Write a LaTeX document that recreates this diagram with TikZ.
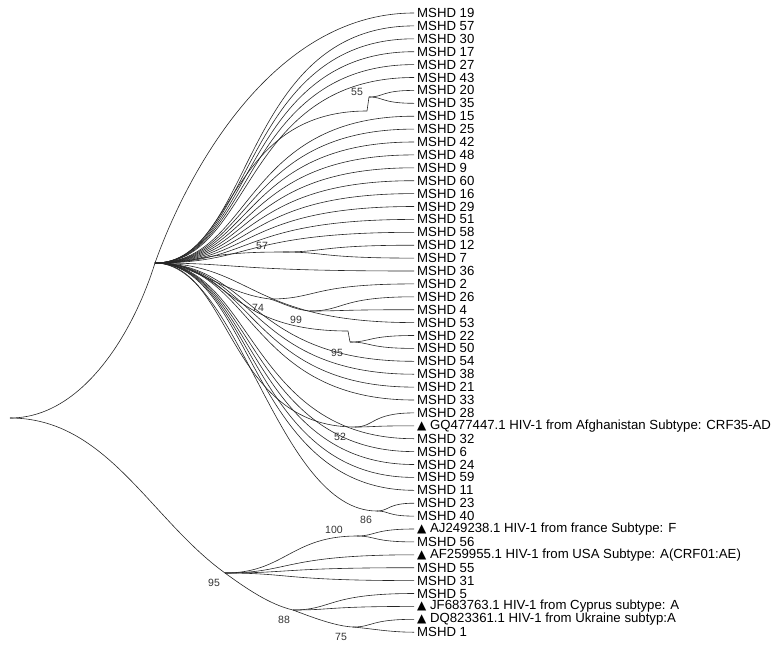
\documentclass[tikz,border=0pt]{standalone}
\usepackage{fontspec}
\setmainfont{Liberation Sans}
\newfontfamily\symfont{DejaVu Sans}
\usetikzlibrary{calc}
\tikzset{
  branch/.style={line width=0.6pt, draw=black!85},
  leaf/.style={anchor=west, inner xsep=3pt, inner ysep=0pt, font=\fontsize{13.2}{14}\selectfont},
  boot/.style={font=\fontsize{10.5}{12}\selectfont, inner sep=0pt, text=black!80},
}
\newcommand\tri{{\symfont\fontsize{12}{12}\selectfont ▲}}
\newcommand\tbranch[6]{\draw[branch] let \p1=(#1), \p2=(#2) in (\p1) .. controls ({\x1+#3*(\x2-\x1)},{\y1+#4*(\y2-\y1)}) and ({\x1+#5*(\x2-\x1)},{\y1+#6*(\y2-\y1)}) .. (\p2);}
\newcommand\fan[2]{\tbranch{#1}{#2}{0.33}{0}{0.28}{1}}
\newcommand\upfan[2]{\tbranch{#1}{#2}{0.38}{0}{0.33}{1}}
\newcommand\lofan[2]{\tbranch{#1}{#2}{0.38}{0}{0.36}{1}}
\begin{document}
\begin{tikzpicture}[x=1pt,y=-1pt]
\useasboundingbox (0,0) rectangle (783,651);
% leaves
\node[leaf] (m19) at (414,13.0) {MSHD 19};
\node[leaf] (m57) at (414,25.9) {MSHD 57};
\node[leaf] (m30) at (414,38.8) {MSHD 30};
\node[leaf] (m17) at (414,51.7) {MSHD 17};
\node[leaf] (m27) at (414,64.6) {MSHD 27};
\node[leaf] (m43) at (414,77.5) {MSHD 43};
\node[leaf] (m20) at (414,90.4) {MSHD 20};
\node[leaf] (m35) at (414,103.3) {MSHD 35};
\node[leaf] (m15) at (414,116.2) {MSHD 15};
\node[leaf] (m25) at (414,129.1) {MSHD 25};
\node[leaf] (m42) at (414,142.0) {MSHD 42};
\node[leaf] (m48) at (414,154.9) {MSHD 48};
\node[leaf] (m9) at (414,167.8) {MSHD 9};
\node[leaf] (m60) at (414,180.7) {MSHD 60};
\node[leaf] (m16) at (414,193.6) {MSHD 16};
\node[leaf] (m29) at (414,206.5) {MSHD 29};
\node[leaf] (m51) at (414,219.4) {MSHD 51};
\node[leaf] (m58) at (414,232.3) {MSHD 58};
\node[leaf] (m12) at (414,245.2) {MSHD 12};
\node[leaf] (m7) at (414,258.1) {MSHD 7};
\node[leaf] (m36) at (414,271.0) {MSHD 36};
\node[leaf] (m2) at (414,283.9) {MSHD 2};
\node[leaf] (m26) at (414,296.8) {MSHD 26};
\node[leaf] (m4) at (414,309.7) {MSHD 4};
\node[leaf] (m53) at (414,322.6) {MSHD 53};
\node[leaf] (m22) at (414,335.5) {MSHD 22};
\node[leaf] (m50) at (414,348.4) {MSHD 50};
\node[leaf] (m54) at (414,361.3) {MSHD 54};
\node[leaf] (m38) at (414,374.2) {MSHD 38};
\node[leaf] (m21) at (414,387.1) {MSHD 21};
\node[leaf] (m33) at (414,400.0) {MSHD 33};
\node[leaf] (m28) at (414,412.9) {MSHD 28};
\node[leaf] (gq) at (414,425.8) {\tri\ GQ477447.1 HIV-1 from Afghanistan Subtype: CRF35-AD};
\node[leaf] (m32) at (414,438.7) {MSHD 32};
\node[leaf] (m6) at (414,451.6) {MSHD 6};
\node[leaf] (m24) at (414,464.5) {MSHD 24};
\node[leaf] (m59) at (414,477.4) {MSHD 59};
\node[leaf] (m11) at (414,490.3) {MSHD 11};
\node[leaf] (m23) at (414,503.2) {MSHD 23};
\node[leaf] (m40) at (414,516.1) {MSHD 40};
\node[leaf] (aj) at (414,529.0) {\tri\ AJ249238.1 HIV-1 from france Subtype: F};
\node[leaf] (m56) at (414,541.9) {MSHD 56};
\node[leaf] (af) at (414,554.8) {\tri\ AF259955.1 HIV-1 from USA Subtype: A(CRF01:AE)};
\node[leaf] (m55) at (414,567.7) {MSHD 55};
\node[leaf] (m31) at (414,580.6) {MSHD 31};
\node[leaf] (m5) at (414,593.5) {MSHD 5};
\node[leaf] (jf) at (414,606.4) {\tri\ JF683763.1 HIV-1 from Cyprus subtype: A};
\node[leaf] (dq) at (414,619.3) {\tri\ DQ823361.1 HIV-1 from Ukraine subtyp:A};
\node[leaf] (m1) at (414,632.2) {MSHD 1};
% internal nodes
\coordinate (R) at (10,418);
\coordinate (A) at (155,263);
\coordinate (N55) at (369,97);
\coordinate (N55in) at (367,111);
\coordinate (N57) at (283,252);
\coordinate (N74) at (270,299);
\coordinate (N99) at (310,311);
\coordinate (N95a) at (350,342);
\coordinate (N95ain) at (348,331);
\coordinate (N52) at (355,427);
\coordinate (N86) at (377,511);
\coordinate (B) at (225,573);
\coordinate (N100) at (357,536);
\coordinate (N88) at (293,610);
\coordinate (N75) at (353,627);
% branches
\tbranch{R}{A}{0.5}{0}{0.85}{0.55}
\tbranch{R}{B}{0.45}{0}{0.65}{0.65}
\tbranch{A}{m19.west}{0.12}{0.35}{0.45}{1}
\upfan{A}{m57.west}
\upfan{A}{m30.west}
\upfan{A}{m17.west}
\upfan{A}{m27.west}
\upfan{A}{m43.west}
\upfan{A}{N55in}
\draw[branch] (N55in) -- (N55);
\fan{N55}{m20.west}
\fan{N55}{m35.west}
\upfan{A}{m15.west}
\upfan{A}{m25.west}
\upfan{A}{m42.west}
\upfan{A}{m48.west}
\upfan{A}{m9.west}
\upfan{A}{m60.west}
\upfan{A}{m16.west}
\upfan{A}{m29.west}
\upfan{A}{m51.west}
\upfan{A}{m58.west}
\upfan{A}{N57}
\fan{N57}{m12.west}
\fan{N57}{m7.west}
\fan{A}{m36.west}
\tbranch{A}{N74}{0.33}{0}{0.6}{0.85}
\fan{N74}{m2.west}
\tbranch{N74}{N99}{0.3}{0.3}{0.6}{0.9}
\fan{N99}{m26.west}
\fan{N99}{m4.west}
\lofan{A}{m53.west}
\lofan{A}{N95ain}
\draw[branch] (N95ain) -- (N95a);
\fan{N95a}{m22.west}
\fan{N95a}{m50.west}
\lofan{A}{m54.west}
\lofan{A}{m38.west}
\lofan{A}{m21.west}
\lofan{A}{m33.west}
\lofan{A}{N52}
\fan{N52}{m28.west}
\fan{N52}{gq.west}
\lofan{A}{m32.west}
\lofan{A}{m6.west}
\lofan{A}{m24.west}
\lofan{A}{m59.west}
\lofan{A}{m11.west}
\tbranch{A}{N86}{0.38}{0}{0.55}{1}
\fan{N86}{m23.west}
\fan{N86}{m40.west}
\tbranch{B}{N100}{0.45}{0}{0.5}{1}
\fan{N100}{aj.west}
\fan{N100}{m56.west}
\tbranch{B}{af.west}{0.35}{0}{0.3}{1}
\tbranch{B}{m55.west}{0.35}{0}{0.3}{1}
\tbranch{B}{m31.west}{0.35}{0}{0.3}{1}
\tbranch{B}{N88}{0.3}{0.4}{0.65}{0.85}
\fan{N88}{m5.west}
\fan{N88}{jf.west}
\tbranch{N88}{N75}{0.3}{0.4}{0.7}{0.95}
\fan{N75}{dq.west}
\tbranch{N75}{m1.west}{0.3}{0.3}{0.6}{1}
% bootstrap values
\node[boot] (b55) at (357,92) {55};
\node[boot] (b57) at (262,246) {57};
\node[boot] (b74) at (258,308) {74};
\node[boot] (b99) at (296,320) {99};
\node[boot] (b95a) at (337,353) {95};
\node[boot] (b52) at (340,437) {52};
\node[boot] (b86) at (366,520) {86};
\node[boot] (b100) at (334,530) {100};
\node[boot] (b95) at (214,583) {95};
\node[boot] (b88) at (284,620) {88};
\node[boot] (b75) at (341,637) {75};
\end{tikzpicture}
\end{document}
